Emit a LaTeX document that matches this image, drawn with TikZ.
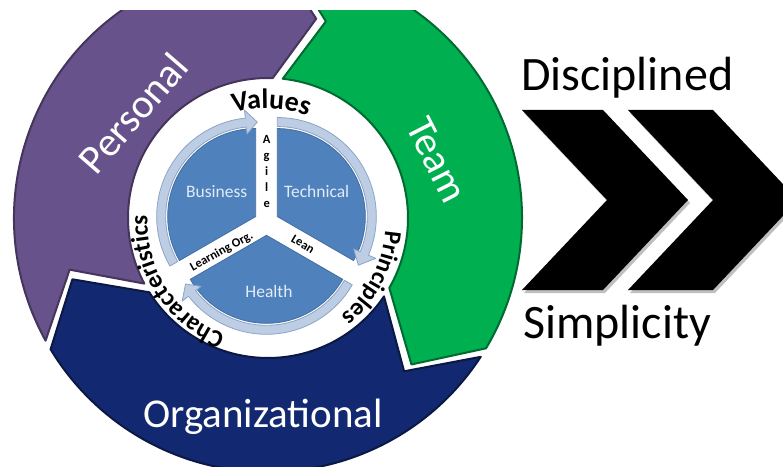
\documentclass[tikz,border=0pt]{standalone}
\usepackage{fontspec}
\setmainfont{Carlito}
\usetikzlibrary{calc,decorations.text}
\definecolor{purpleband}{RGB}{104,82,139}
\definecolor{greenband}{RGB}{0,176,80}
\definecolor{navyband}{RGB}{18,40,112}
\definecolor{pieblue}{RGB}{79,129,189}
\definecolor{pietext}{RGB}{226,236,247}
\definecolor{ringfill}{RGB}{188,205,228}
\definecolor{ringedge}{RGB}{140,164,200}
\begin{document}
\begin{tikzpicture}[x=1pt,y=1pt,
  bandtext/.style={text=white, font=\fontsize{41}{41}\selectfont, inner sep=0pt},
  pietxt/.style={text=pietext, font=\fontsize{17.5}{17.5}\selectfont, inner sep=0pt},
  gaptxt/.style={text=black, font=\fontsize{12.5}{16}\selectfont\bfseries, inner sep=0pt},
  valletter/.style={text=black, font=\fontsize{28}{28}\selectfont\bfseries, inner sep=0pt, anchor=base},
  sidetxt/.style={text=black, font=\fontsize{48}{48}\selectfont, inner sep=0pt, anchor=base west},
  sector/.style={fill=pieblue, draw=pieblue!85!black, line width=0.8pt},
  ringarrow/.style={fill=ringfill, draw=ringedge, line width=0.8pt, line join=round},
  chevron/.style={fill=black},
  chevshadow/.style={fill=black, opacity=0.25},
]
\useasboundingbox (0,0) rectangle (783,466);
\clip (0,0) rectangle (783,466);
\coordinate (C) at (268,248);
\coordinate (P) at (266.5,243.2);

\begin{scope}
\clip (0,0) rectangle (783,455);
% Personal band
\path[fill=purpleband, draw=purpleband!65!black, line width=2pt, line join=round]
  ($(C)+(208.87:254)$) arc[start angle=208.87, end angle=87.13, radius=254]
  -- ($(C)+(76.4:205)$) -- ($(C)+(88.05:140)$)
  arc[start angle=88.05, end angle=207.95, radius=140]
  -- ($(C)+(194.6:205)$) -- cycle;
% Team band
\path[fill=greenband, draw=greenband!60!black, line width=2pt, line join=round]
  ($(C)+(84.87:254)$) arc[start angle=84.87, end angle=-30.87, radius=254]
  -- ($(C)+(-45.6:205)$) -- ($(C)+(-29.95:140)$)
  arc[start angle=-29.95, end angle=83.95, radius=140]
  -- ($(C)+(73.6:205)$) -- cycle;
% Organizational band
\path[fill=navyband, draw=navyband!60!black, line width=2pt, line join=round]
  ($(C)+(-33.13:254)$) arc[start angle=-33.13, end angle=-148.87, radius=254]
  -- ($(C)+(-162.6:205)$) -- ($(C)+(-147.95:140)$)
  arc[start angle=-147.95, end angle=-34.05, radius=140]
  -- ($(C)+(-48.4:205)$) -- cycle;
\end{scope}

\node[bandtext, rotate=49] (personal) at (133,353) {Personal};
\node[bandtext, rotate=-63] (team) at (437,306) {Team};
\node[bandtext] (org) at (263,49) {Organizational};

% pie sectors
\coordinate (bA) at ($(P)+(150:12.5)$);
\coordinate (tA) at ($(P)+(30:12.5)$);
\coordinate (hA) at ($(P)+(270:12.5)$);
\path[sector] (bA) -- ($(bA)+(90:88)$) arc[start angle=90, end angle=210, radius=88] -- cycle;
\path[sector] (tA) -- ($(tA)+(-30:88)$) arc[start angle=-30, end angle=90, radius=88] -- cycle;
\path[sector] (hA) -- ($(hA)+(210:88)$) arc[start angle=210, end angle=330, radius=88] -- cycle;

% ring arrows
\path[ringarrow] ($(bA)+(210:99)$) arc[start angle=210, end angle=96, radius=99]
  -- ($(bA)+(96:107)$) -- ($(bA)+(89:94.5)$) -- ($(bA)+(96:83)$) -- ($(bA)+(96:90)$)
  arc[start angle=96, end angle=210, radius=90] -- cycle;
\path[ringarrow] ($(tA)+(90:99)$) arc[start angle=90, end angle=-23, radius=99]
  -- ($(tA)+(-23:107)$) -- ($(tA)+(-31:94.5)$) -- ($(tA)+(-23:83)$) -- ($(tA)+(-23:90)$)
  arc[start angle=-23, end angle=90, radius=90] -- cycle;
\path[ringarrow] ($(hA)+(330:99)$) arc[start angle=330, end angle=218, radius=99]
  -- ($(hA)+(218:107)$) -- ($(hA)+(211:94.5)$) -- ($(hA)+(218:83)$) -- ($(hA)+(218:90)$)
  arc[start angle=218, end angle=330, radius=90] -- cycle;

\node[pietxt] (business) at (216.7,274.3) {Business};
\node[pietxt] (technical) at (316.7,274.3) {Technical};
\node[pietxt] (health) at (269,174.3) {Health};

\node[gaptxt, align=center, anchor=north] (agile) at (266.7,331) {A\\g\\i\\l\\e};
\node[gaptxt, rotate=-31] (lean) at (303,222) {Lean};
\node[gaptxt, rotate=29] (learning) at (221.7,214.3) {Learning Org.};

% Values, letter by letter along the arc
\node[valletter, rotate=12.4] (vV) at ($(P)+(102.4:114.5)$) {V};
\node[valletter, rotate=5.9] (va) at ($(P)+(95.9:114.5)$) {a};
\node[valletter, rotate=0.7] (vl) at ($(P)+(90.7:114.5)$) {l};
\node[valletter, rotate=-4.75] (vu) at ($(P)+(85.25:114.5)$) {u};
\node[valletter, rotate=-12.0] (ve) at ($(P)+(78.0:114.5)$) {e};
\node[valletter, rotate=-18.4] (vs) at ($(P)+(71.6:114.5)$) {s};

% curved labels
\path[decorate, decoration={text along path, text align=center,
  text={|\fontsize{24.5}{24.5}\selectfont\bfseries|Principles}}]
  ($(P)+(25:119)$) arc[start angle=25, end angle=-80, radius=119];
\path[decorate, decoration={text along path, text align=center,
  text={|\fontsize{25}{25}\selectfont\bfseries|Characteristics}}]
  ($(P)+(270:119)$) arc[start angle=270, end angle=156, radius=119];

% chevrons
\path[chevshadow] (524,353) -- (605,353) -- (690,263) -- (605,173) -- (524,173) -- (609,263) -- cycle;
\path[chevshadow] (630,353) -- (715,353) -- (800,263) -- (715,173) -- (630,173) -- (715,263) -- cycle;
\path[chevron] (522,356) -- (603,356) -- (688,266) -- (603,176) -- (522,176) -- (607,266) -- cycle;
\path[chevron] (628,356) -- (713,356) -- (798,266) -- (713,176) -- (628,176) -- (713,266) -- cycle;

\node[sidetxt] (disc) at (521,375.3) {Disciplined};
\node[sidetxt] (simp) at (523,127.7) {Simplicity};
\end{tikzpicture}
\end{document}
